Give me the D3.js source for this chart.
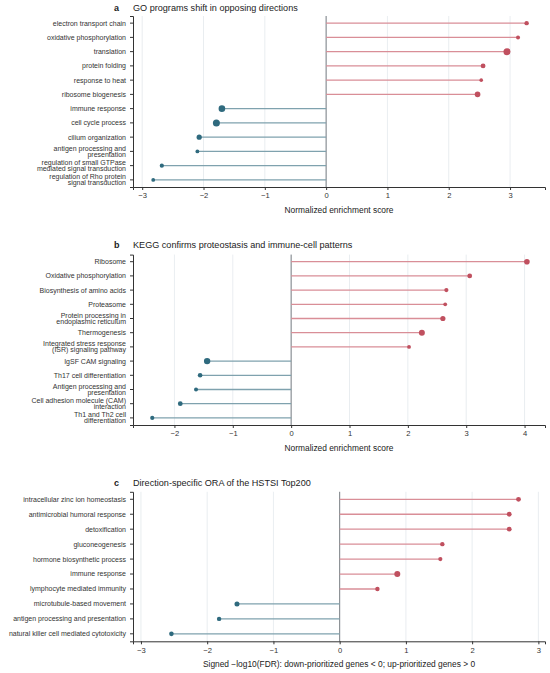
<!DOCTYPE html>
<html>
<head>
<meta charset="utf-8">
<script src="https://cdn.jsdelivr.net/npm/d3@7"></script>
<style>
  body { margin: 0; background: #fff; }
  svg { font-family: "Liberation Sans", Arial, sans-serif; }
</style>
</head>
<body>
<div id="chart"></div>
<script>
// panel a: GO
const goTerms = [
  "electron transport chain", "oxidative phosphorylation", "translation",
  "protein folding", "response to heat", "ribosome biogenesis",
  "immune response", "cell cycle process", "cilium organization",
  "antigen processing and\npresentation",
  "regulation of small GTPase\nmediated signal transduction",
  "regulation of Rho protein\nsignal transduction"
];
const goScores = [3.27, 3.13, 2.95, 2.56, 2.53, 2.47, -1.70, -1.79, -2.07, -2.10, -2.68, -2.82];
const goSizes = [2.2, 2.0, 3.5, 2.4, 1.8, 2.8, 3.3, 3.5, 2.6, 1.9, 2.1, 1.9];

// panel b: KEGG
const keggTerms = [
  "Ribosome", "Oxidative phosphorylation", "Biosynthesis of amino acids",
  "Proteasome", "Protein processing in\nendoplasmic reticulum", "Thermogenesis",
  "Integrated stress response\n(ISR) signaling pathway", "IgSF CAM signaling",
  "Th17 cell differentiation", "Antigen processing and\npresentation",
  "Cell adhesion molecule (CAM)\ninteraction", "Th1 and Th2 cell\ndifferentiation"
];
const keggScores = [4.04, 3.06, 2.66, 2.64, 2.60, 2.24, 2.02, -1.44, -1.56, -1.63, -1.90, -2.38];
const keggSizes = [2.8, 2.4, 2.1, 1.9, 2.6, 3.0, 1.9, 3.2, 2.3, 2.0, 2.4, 2.1];

// panel c: ORA
const oraTerms = [
  "intracellular zinc ion homeostasis", "antimicrobial humoral response",
  "detoxification", "gluconeogenesis", "hormone biosynthetic process",
  "immune response", "lymphocyte mediated immunity", "microtubule-based movement",
  "antigen processing and presentation", "natural killer cell mediated cytotoxicity"
];
const oraScores = [2.70, 2.56, 2.56, 1.55, 1.52, 0.87, 0.57, -1.55, -1.82, -2.54];
const oraSizes = [2.4, 2.4, 2.4, 2.2, 2.1, 3.0, 2.2, 2.5, 2.2, 2.3];

const upDot = "#c0505f", upStem = "#d98e97";
const downDot = "#2f6a7e", downStem = "#7fa2ae";

const width = 550, height = 673;
const svg = d3.select("#chart").append("svg")
  .attr("width", width).attr("height", height);

const drawPanel = (cfg) => {
  const g = svg.append("g");
  const x = d3.scaleLinear().domain(cfg.xDomain).range([133, 545]);
  const y = d3.scaleBand().domain(cfg.terms).range([cfg.top, cfg.bottom]);
  const rows = cfg.terms.map((t, i) => ({ term: t, score: cfg.scores[i], size: cfg.sizes[i] }));

  // grid
  g.append("g").selectAll("line").data(x.ticks(cfg.ticks)).enter().append("line")
    .attr("x1", (d) => x(d)).attr("x2", (d) => x(d))
    .attr("y1", cfg.top).attr("y2", cfg.bottom)
    .attr("stroke", "#e3e8ec").attr("stroke-width", 0.8);

  // zero line
  g.append("line")
    .attr("x1", x(0)).attr("x2", x(0))
    .attr("y1", cfg.top).attr("y2", cfg.bottom)
    .attr("stroke", "#7d8286").attr("stroke-width", 1);

  // stems
  g.append("g").selectAll("line").data(rows).enter().append("line")
    .attr("x1", x(0)).attr("x2", (d) => x(d.score))
    .attr("y1", (d) => y(d.term) + y.bandwidth() / 2)
    .attr("y2", (d) => y(d.term) + y.bandwidth() / 2)
    .attr("stroke", (d) => (d.score > 0 ? upStem : downStem))
    .attr("stroke-width", 1.3);

  // dots
  g.append("g").selectAll("circle").data(rows).enter().append("circle")
    .attr("cx", (d) => x(d.score))
    .attr("cy", (d) => y(d.term) + y.bandwidth() / 2)
    .attr("r", (d) => d.size)
    .attr("fill", (d) => (d.score > 0 ? upDot : downDot));

  // x axis
  const xAxis = g.append("g")
    .attr("transform", `translate(0, ${cfg.bottom})`)
    .call(d3.axisBottom(x).ticks(cfg.ticks).tickSize(3).tickPadding(3));
  xAxis.selectAll("text").style("font-size", "7.6px").attr("fill", "#333");
  xAxis.selectAll("line, path").attr("stroke", "#333");

  // y axis
  const yAxis = g.append("g")
    .attr("transform", "translate(133, 0)")
    .call(d3.axisLeft(y).tickSize(3).tickPadding(3).tickFormat(""));
  yAxis.selectAll("line, path").attr("stroke", "#333");

  // category labels (multi-line)
  g.append("g").selectAll("text").data(rows).enter().append("text")
    .attr("text-anchor", "end")
    .style("font-size", "7px")
    .attr("fill", "#333")
    .each(function (d) {
      const lines = d.term.split("\n");
      const cy = y(d.term) + y.bandwidth() / 2;
      const lh = 5.8;
      lines.forEach((ln, i) => {
        d3.select(this).append("tspan")
          .attr("x", 126)
          .attr("y", cy + (i - (lines.length - 1) / 2) * lh)
          .attr("dy", "0.35em")
          .text(ln);
      });
    });

  // axis label
  g.append("text")
    .attr("x", 339).attr("y", cfg.bottom + 26)
    .attr("text-anchor", "middle")
    .style("font-size", "8.4px").attr("fill", "#222")
    .text(cfg.xLabel);

  // title
  g.append("text")
    .attr("x", 114).attr("y", cfg.titleY)
    .style("font-size", "9px").style("font-weight", "bold")
    .attr("fill", "#222")
    .text(cfg.letter);
  g.append("text")
    .attr("x", 133).attr("y", cfg.titleY)
    .style("font-size", "9.1px").attr("fill", "#222")
    .text(cfg.title);
};

drawPanel({
  terms: goTerms, scores: goScores, sizes: goSizes,
  xDomain: [-3.15, 3.57], ticks: 7, top: 16, bottom: 187, titleY: 10.5,
  letter: "a", title: "GO programs shift in opposing directions",
  xLabel: "Normalized enrichment score"
});
drawPanel({
  terms: keggTerms, scores: keggScores, sizes: keggSizes,
  xDomain: [-2.71, 4.35], ticks: 7, top: 254.6, bottom: 425, titleY: 247.8,
  letter: "b", title: "KEGG confirms proteostasis and immune-cell patterns",
  xLabel: "Normalized enrichment score"
});
drawPanel({
  terms: oraTerms, scores: oraScores, sizes: oraSizes,
  xDomain: [-3.12, 3.1], ticks: 7, top: 491.8, bottom: 641.3, titleY: 486.2,
  letter: "c", title: "Direction-specific ORA of the HSTSI Top200",
  xLabel: "Signed \u2212log10(FDR): down-prioritized genes < 0; up-prioritized genes > 0"
});
</script>
</body>
</html>
